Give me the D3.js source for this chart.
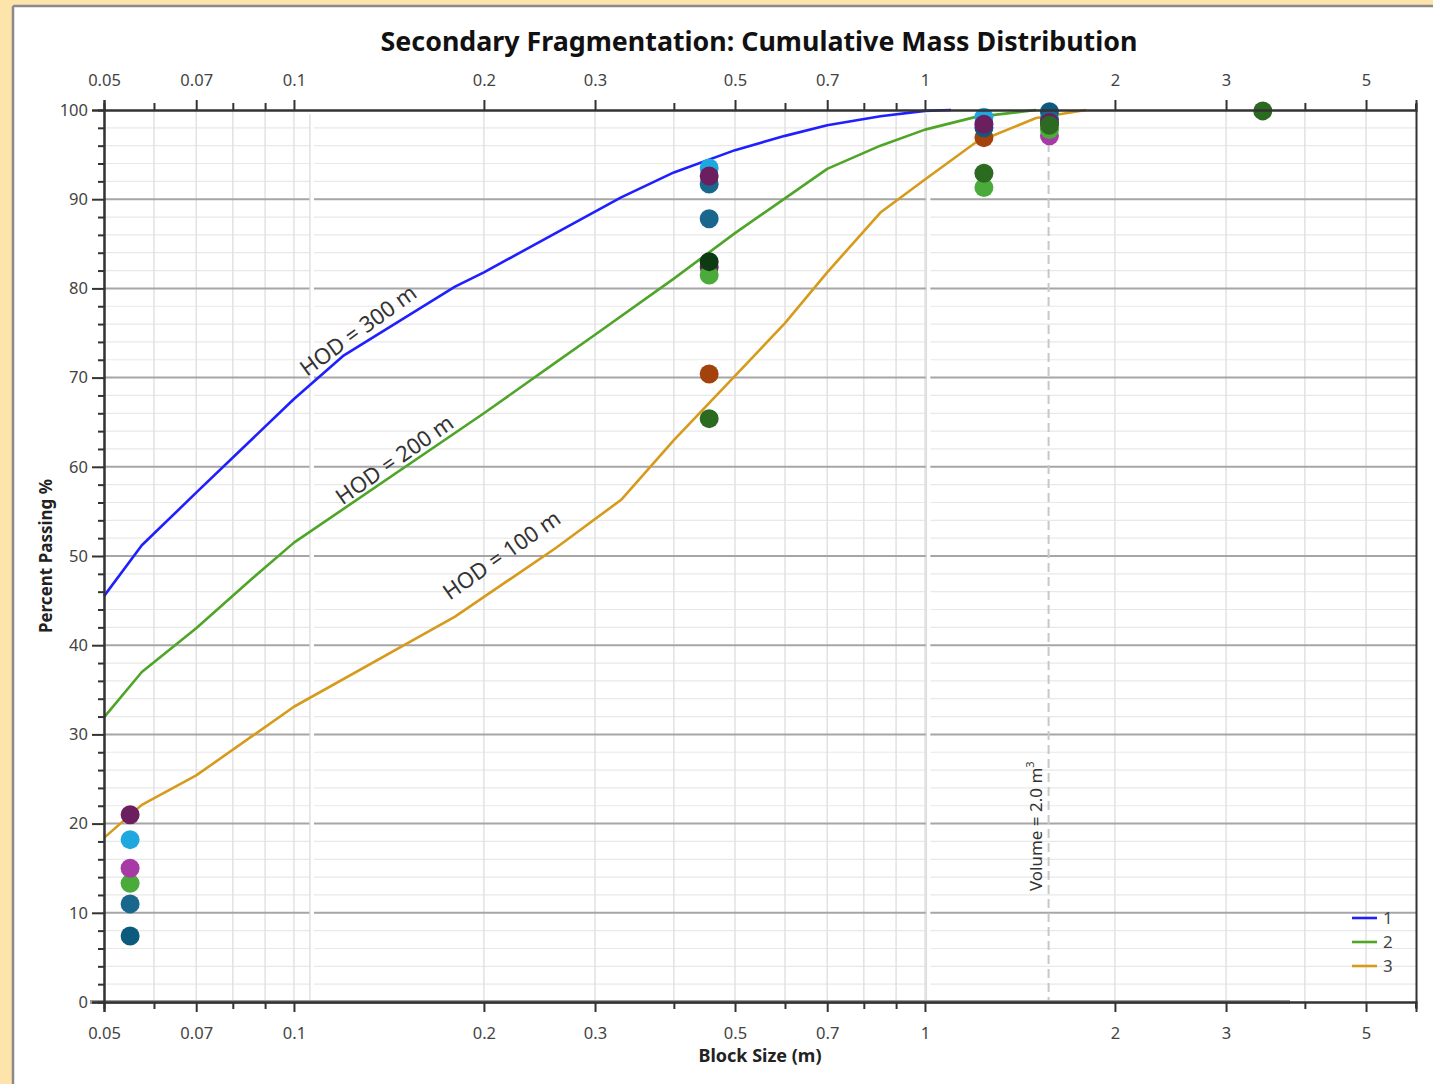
<!DOCTYPE html>
<html>
<head>
<meta charset="utf-8">
<script src="https://cdn.jsdelivr.net/npm/d3@7"></script>
<style>
  html, body { margin: 0; padding: 0; background: #fce4aa; }
  svg { display: block; }
  text { font-family: "Noto Sans", "Open Sans", sans-serif; }
</style>
</head>
<body>
<script>
// ---------- DATA ----------
const titleText = "Secondary Fragmentation: Cumulative Mass Distribution";
const xLabelText = "Block Size (m)";
const yLabelText = "Percent Passing %";

const xMajorTicks = [0.05, 0.07, 0.1, 0.2, 0.3, 0.5, 0.7, 1, 2, 3, 5];
const xMajorLabels = ["0.05", "0.07", "0.1", "0.2", "0.3", "0.5", "0.7", "1", "2", "3", "5"];
const xMinorTicks = [0.06, 0.08, 0.09, 0.4, 0.6, 0.8, 0.9, 4];
const yMajorTicks = [0, 10, 20, 30, 40, 50, 60, 70, 80, 90, 100];
const yMinorTicks = [2,4,6,8,12,14,16,18,22,24,26,28,32,34,36,38,42,44,46,48,52,54,56,58,62,64,66,68,72,74,76,78,82,84,86,88,92,94,96,98];

const seriesNames = ["1", "2", "3"];
const hodLabels = ["HOD = 300 m", "HOD = 200 m", "HOD = 100 m"];

const curve1X = [0.05, 0.0574, 0.07, 0.1, 0.12, 0.18, 0.2, 0.3, 0.33, 0.4, 0.5, 0.6, 0.7, 0.85, 1.0, 1.1];
const curve1Y = [45.5, 51.2, 57.1, 67.6, 72.5, 80.2, 81.8, 88.6, 90.2, 93.0, 95.5, 97.1, 98.3, 99.3, 99.9, 100];

const curve2X = [0.05, 0.0574, 0.07, 0.085, 0.1, 0.2, 0.26, 0.3, 0.4, 0.5, 0.7, 0.85, 1.0, 1.2, 1.5];
const curve2Y = [31.9, 37.0, 41.9, 47.2, 51.5, 66.0, 71.7, 74.8, 81.1, 86.2, 93.4, 96.0, 97.8, 99.2, 100];

const curve3X = [0.05, 0.0574, 0.07, 0.1, 0.18, 0.26, 0.33, 0.4, 0.5, 0.6, 0.7, 0.85, 1.0, 1.2, 1.5, 1.8];
const curve3Y = [18.4, 22.1, 25.4, 33.1, 43.2, 50.9, 56.3, 63.0, 70.2, 76.1, 81.8, 88.5, 92.2, 96.3, 99.1, 100];

// measured points: size, percent passing, sample group
const pointX = [0.055, 0.055, 0.055, 0.055, 0.055, 0.055,
                0.455, 0.455, 0.455, 0.455, 0.455, 0.455, 0.455, 0.455, 0.455,
                1.24, 1.24, 1.24, 1.24, 1.24, 1.24,
                1.575, 1.575, 1.575, 1.575, 1.575, 1.575,
                3.43];
const pointY = [7.4, 11.0, 13.3, 15.0, 18.2, 21.0,
                91.7, 93.5, 92.6, 87.8, 82.4, 81.5, 83.0, 70.4, 65.4,
                99.2, 96.9, 98.0, 98.4, 91.3, 92.9,
                97.1, 99.8, 99.0, 98.6, 97.8, 98.3,
                99.9];
const pointGroup = [5, 4, 3, 2, 0, 1,
                    4, 0, 1, 4, 1, 3, 6, 7, 8,
                    0, 7, 5, 1, 3, 8,
                    2, 5, 4, 1, 3, 8,
                    8];
const volumeLabel = "Volume = 2.0 m";
const volumeX = 1.57;

// ---------- STYLE ----------
const W = 1433, H = 1084;
const L = 104, R = 1416, T = 110, B = 1002;
const lineColors = ["#1f1fff", "#4ea527", "#d69b1c"];
const groupColors = ["#1fa8e0", "#6b1f5f", "#a83aa6", "#4aab3b", "#1a678e", "#0d5a7f", "#0d3a12", "#a3420d", "#2c6a21"];

const svg = d3.select("body").append("svg").attr("width", W).attr("height", H);

// panel
svg.append("rect").attr("x", 13).attr("y", 6).attr("width", W - 13).attr("height", H - 6).attr("fill", "#ffffff");
svg.append("line").attr("x1", 13).attr("x2", 13).attr("y1", 6).attr("y2", H).attr("stroke", "#8a8a8a").attr("stroke-width", 2.5);
svg.append("line").attr("x1", 13).attr("x2", W).attr("y1", 6).attr("y2", 6).attr("stroke", "#8a8a8a").attr("stroke-width", 2.5);

const x = d3.scaleLog().domain([0.05, 6]).range([L, R]);
const y = d3.scaleLinear().domain([0, 100]).range([B, T]);

const g = svg.append("g");

// minor horizontal grid
g.selectAll(".hmin").data(yMinorTicks).join("line")
  .attr("x1", L).attr("x2", R).attr("y1", d => y(d)).attr("y2", d => y(d))
  .attr("stroke", "#e8e8e8").attr("stroke-width", 1.2);
// vertical grid
g.selectAll(".vgrid").data(xMajorTicks.concat(xMinorTicks)).join("line")
  .attr("x1", d => x(d)).attr("x2", d => x(d)).attr("y1", T).attr("y2", B)
  .attr("stroke", "#e0e0e0").attr("stroke-width", 1.4);
// major horizontal grid
g.selectAll(".hmaj").data(yMajorTicks.filter(d => d > 0 && d < 100)).join("line")
  .attr("x1", L).attr("x2", R).attr("y1", d => y(d)).attr("y2", d => y(d))
  .attr("stroke", "#a6a6a6").attr("stroke-width", 2);

// white break lines
[0.106, 1.005].forEach(v => {
  g.append("rect").attr("x", x(v)).attr("y", T + 4).attr("width", 4).attr("height", B - T - 6).attr("fill", "#ffffff");
  g.append("line").attr("x1", x(v)).attr("x2", x(v)).attr("y1", T + 4).attr("y2", B - 2)
    .attr("stroke", "#d8d8d8").attr("stroke-width", 1.2);
});

// dashed volume line
g.append("line").attr("x1", x(volumeX)).attr("x2", x(volumeX)).attr("y1", T + 5).attr("y2", B)
  .attr("stroke", "#c8c8c8").attr("stroke-width", 2).attr("stroke-dasharray", "9,5");
const vt = g.append("text").attr("transform", `translate(${x(volumeX) - 7},${y(19.7)}) rotate(-90)`)
  .attr("text-anchor", "middle").attr("font-size", 17).attr("fill", "#333");
vt.append("tspan").text(volumeLabel);
vt.append("tspan").attr("dy", -8).attr("font-size", 11).text("3");

// curves
const curves = [[curve1X, curve1Y], [curve2X, curve2Y], [curve3X, curve3Y]];
const lineGen = d3.line().x(d => x(d[0])).y(d => y(d[1]));
curves.forEach((c, i) => {
  const pts = c[0].map((v, j) => [v, c[1][j]]);
  g.append("path").datum(pts).attr("d", lineGen).attr("fill", "none")
    .attr("stroke", lineColors[i]).attr("stroke-width", 2.6).attr("stroke-linejoin", "round");
});

// HOD labels
const hodPos = [[0.1285, 74.6, -36], [0.1467, 60.1, -35], [0.2168, 49.4, -35]];
hodLabels.forEach((t, i) => {
  g.append("text").attr("transform", `translate(${x(hodPos[i][0])},${y(hodPos[i][1])}) rotate(${hodPos[i][2]})`)
    .attr("text-anchor", "middle").attr("font-size", 22).attr("fill", "#333").text(t);
});

// points
g.selectAll(".pt").data(pointX.map((v, i) => ({x: v, y: pointY[i], g: pointGroup[i]}))).join("circle")
  .attr("cx", d => x(d.x)).attr("cy", d => y(d.y)).attr("r", 9.5)
  .attr("fill", d => groupColors[d.g]);

// zero line thick
g.append("line").attr("x1", 90).attr("x2", 1290).attr("y1", B).attr("y2", B)
  .attr("stroke", "#9a9a9a").attr("stroke-width", 4);

// axes
const axColor = "#333";
const axBottom = svg.append("g").attr("transform", `translate(0,${B})`)
  .call(d3.axisBottom(x).tickValues(xMajorTicks).tickFormat((d, i) => xMajorLabels[i]).tickSize(10).tickPadding(15));
const axTop = svg.append("g").attr("transform", `translate(0,${T})`)
  .call(d3.axisTop(x).tickValues(xMajorTicks).tickFormat((d, i) => xMajorLabels[i]).tickSize(10).tickPadding(14));
const axBottomMin = svg.append("g").attr("transform", `translate(0,${B})`)
  .call(d3.axisBottom(x).tickValues(xMinorTicks).tickFormat("").tickSize(7));
const axTopMin = svg.append("g").attr("transform", `translate(0,${T})`)
  .call(d3.axisTop(x).tickValues(xMinorTicks).tickFormat("").tickSize(7));
const axLeft = svg.append("g").attr("transform", `translate(${L},0)`)
  .call(d3.axisLeft(y).tickValues(yMajorTicks).tickSize(12).tickPadding(4));
const axLeftMin = svg.append("g").attr("transform", `translate(${L},0)`)
  .call(d3.axisLeft(y).tickValues(yMinorTicks).tickFormat("").tickSize(6));
const axRight = svg.append("g").attr("transform", `translate(${R},0)`)
  .call(d3.axisRight(y).tickValues([]).tickSizeOuter(0));
[axBottom, axTop, axBottomMin, axTopMin, axLeft, axLeftMin, axRight].forEach(a => {
  a.select(".domain").attr("stroke", axColor).attr("stroke-width", 2);
  a.selectAll(".tick line").attr("stroke", axColor).attr("stroke-width", 2);
  a.selectAll("text").attr("font-size", 16.5).attr("fill", "#444")
    .attr("font-family", "'Noto Sans', sans-serif");
});
// corner ticks on right
svg.append("line").attr("x1", R).attr("x2", R).attr("y1", T - 6).attr("y2", T).attr("stroke", axColor).attr("stroke-width", 2);
svg.append("line").attr("x1", R).attr("x2", R).attr("y1", B).attr("y2", B + 6).attr("stroke", axColor).attr("stroke-width", 2);

// titles
svg.append("text").attr("x", 759).attr("y", 51).attr("text-anchor", "middle")
  .attr("font-size", 26.8).attr("font-weight", "bold").attr("fill", "#111").text(titleText);
svg.append("text").attr("x", 760).attr("y", 1062).attr("text-anchor", "middle")
  .attr("font-size", 18).attr("font-weight", "bold").attr("fill", "#222").text(xLabelText);
svg.append("text").attr("transform", "translate(52,556) rotate(-90)").attr("text-anchor", "middle")
  .attr("font-size", 17).attr("font-weight", "bold").attr("fill", "#222").text(yLabelText);

// legend
const leg = svg.append("g");
seriesNames.forEach((n, i) => {
  const yy = 918 + i * 24;
  leg.append("line").attr("x1", 1352).attr("x2", 1377).attr("y1", yy).attr("y2", yy)
    .attr("stroke", lineColors[i]).attr("stroke-width", 2.6);
  leg.append("text").attr("x", 1383).attr("y", yy + 6).attr("font-size", 17).attr("fill", "#444").text(n);
});
</script>
</body>
</html>
